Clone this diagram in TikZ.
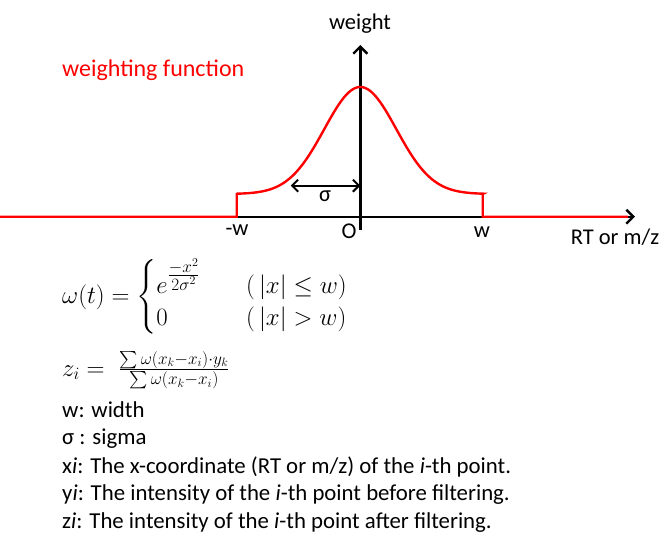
\documentclass[tikz,border=0pt]{standalone}
\usepackage{amsmath}
\usepackage{fontspec}
\setmainfont{Carlito}
\usetikzlibrary{arrows.meta}
\tikzset{
  lbl/.style={inner sep=0pt, font=\fontsize{22.5}{27}\selectfont},
  eq/.style={inner sep=0pt, anchor=west, font=\fontsize{23}{27}\selectfont},
  txt/.style={inner sep=0pt, anchor=west, font=\fontsize{22.8}{27}\selectfont},
  curve/.style={red, line width=2.4pt},
  axis/.style={black, line width=2.4pt, -{Straight Barb[length=7pt,width=14pt]}},
}
\begin{document}
\begin{tikzpicture}[x=1pt,y=-1pt]
\useasboundingbox (0,0) rectangle (669,543);
% axes
\coordinate (xs) at (236.7,216.7);
\coordinate (xe) at (635,216.7);
\coordinate (ys) at (360.3,230);
\coordinate (ye) at (360.3,45);
\draw[axis] (xs) -- (xe);
\draw[axis] (ys) -- (ye);
% red curve
\coordinate (l0) at (0,216.7);
\coordinate (lw) at (236.7,216.7);
\coordinate (lp) at (236.7,194);
\coordinate (rp) at (482.7,194);
\coordinate (rw) at (482.7,216.7);
\coordinate (r0) at (628,216.7);
\draw[curve] (l0) -- (lw) -- (lp)
  -- plot[domain=-123:123, samples=120] ({360.3+\x},{194-107*exp(-(\x)*(\x)/(2*36*36))})
  -- (rp) -- (rw) -- (r0);
% sigma arrow
\coordinate (sa) at (290.7,185.7);
\coordinate (sb) at (360.3,185.7);
\draw[line width=2pt, {Straight Barb[length=6pt,width=12pt]}-{Straight Barb[length=6pt,width=12pt]}] (sa) -- (sb);
\node[lbl] (sig) at (325,196) {σ};
% labels
\node[lbl] (weight) at (360,24) {weight};
\node[lbl] (mw) at (237,230) {-w};
\node[lbl] (o) at (349,231) {O};
\node[lbl] (w) at (482,232) {w};
\node[lbl] (rt) at (615,237) {RT or m/z};
\node[txt, red, font=\fontsize{24}{28}\selectfont] (wf) at (62,70) {weighting function};
% equations
\node[eq] (omega) at (62,297) {$\omega(t)=\begin{cases} e^{\frac{\scriptstyle -x^2}{\scriptstyle 2\sigma^2}} & \quad(\,|x|\le w)\\ 0 & \quad(\,|x|>w)\end{cases}$};
\node[eq] (zi) at (62,370) {$z_i=\;\frac{\sum\omega(x_k-x_i)\cdot y_k}{\sum\omega(x_k-x_i)}$};
% text lines
\node[txt] (t1) at (62,410) {w: width};
\node[txt] (t2) at (62,439) {σ : sigma};
\node[txt] (t3) at (62,467) {x\textit{i}: The x-coordinate (RT or m/z) of the \textit{i}-th point.};
\node[txt] (t4) at (62,495) {y\textit{i}: The intensity of the \textit{i}-th point before filtering.};
\node[txt] (t5) at (62,523) {z\textit{i}: The intensity of the \textit{i}-th point after filtering.};
\end{tikzpicture}
\end{document}
